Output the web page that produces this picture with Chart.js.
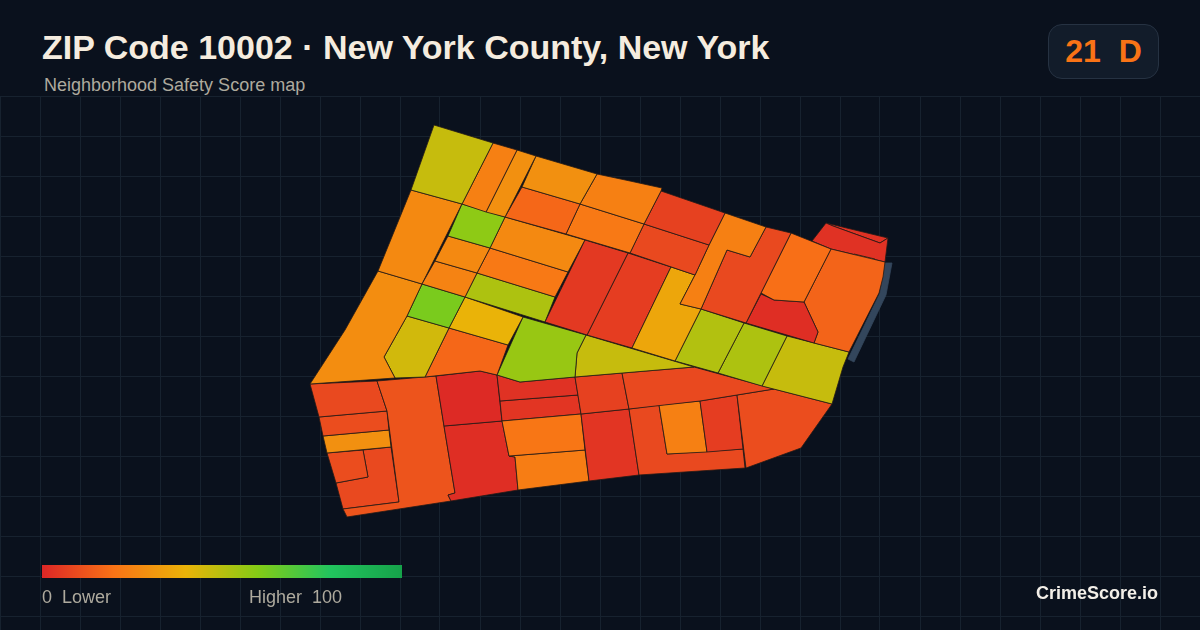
<!DOCTYPE html>
<html>
<head>
<meta charset="utf-8">
<title>ZIP Code 10002</title>
<script src="https://cdn.jsdelivr.net/npm/chart.js@4"></script>
<style>
  html, body { margin: 0; padding: 0; background: #0a111d; }
  body { width: 1200px; height: 630px; position: relative; overflow: hidden; font-family: "Liberation Sans", Arial, sans-serif; }
  #map { position: absolute; left: 0; top: 96px; width: 1200px; height: 534px; }
  .label { position: absolute; white-space: pre; }
  #title { left: 42px; top: 27px; font-size: 34px; line-height: 40px; font-weight: 700; color: #f5ecdf; }
  #subtitle { left: 44px; top: 75px; font-size: 18px; line-height: 20px; color: #aeaa9e; }
  #badge { position: absolute; left: 1048px; top: 24px; width: 109px; height: 53px; border: 1px solid #263242; border-radius: 14px; background: #121c2a; color: #f97316; font-size: 32px; font-weight: 700; line-height: 53px; text-align: center; white-space: pre; }
  #scale-bar { position: absolute; left: 42px; top: 565px; width: 360px; height: 13px; }
  #low { left: 42px; top: 587px; font-size: 18px; line-height: 20px; color: #aeaa9e; }
  #high { left: 249px; top: 587px; font-size: 18px; line-height: 20px; color: #aeaa9e; }
  #brand { right: 42px; top: 583px; font-size: 18px; line-height: 20px; font-weight: 700; color: #f3efe8; }
</style>
</head>
<body>
<canvas id="map" width="1200" height="534"></canvas>
<div class="label" id="title">ZIP Code 10002 · New York County, New York</div>
<div class="label" id="subtitle">Neighborhood Safety Score map</div>
<div id="badge">21  D</div>
<div id="scale-bar"></div>
<div class="label" id="low">0  Lower</div>
<div class="label" id="high">Higher  100</div>
<div class="label" id="brand">CrimeScore.io</div>
<script>
// score ramp, same stops as the legend bar
const rampScores = [0, 20, 40, 60, 80, 100];
const rampColors = ["#dc2626", "#f97316", "#eab308", "#84cc16", "#22c55e", "#16a34a"];

const gridX = [0, 40, 80, 120, 160, 200, 240, 280, 320, 360, 400, 440, 480, 520, 560, 600, 640, 680, 720, 760, 800, 840, 880, 920, 960, 1000, 1040, 1080, 1120, 1160, 1200];
const gridY = [96, 136, 176, 216, 256, 296, 336, 376, 416, 456, 496, 536, 576, 616];

// block outlines, flat x,y lists
const blockOutlines = [
  [434,125, 493,143, 462,204, 411,190],
  [493,143, 517,150, 486,212, 462,204],
  [517,150, 536,156, 505,217, 486,212],
  [536,156, 597,174, 580,204, 522,187],
  [522,187, 580,204, 566,234, 505,217],
  [597,174, 630,181, 662,188, 661,191, 644,224, 580,204],
  [580,204, 644,224, 630,253, 566,234],
  [661,191, 725,213, 709,245, 644,224],
  [644,224, 709,245, 695,275, 630,253],
  [725,213, 766,227, 750,257, 727,250, 701,309, 680,304, 695,275, 709,245],
  [766,227, 791,233, 761,293, 746,323, 701,309, 727,250, 750,257],
  [791,233, 831,249, 804,302, 774,300, 761,293],
  [761,294, 774,300, 804,302, 818,332, 814,343, 746,323],
  [831,249, 885,262, 883,277, 879,293, 849,352, 814,343, 818,332, 804,302],
  [854,254, 875,259, 862,287, 841,279],
  [826,223, 833,226, 880,243, 888,238, 885,262, 831,249, 812,241],
  [826,223, 888,238, 880,243, 833,226],
  [671,267, 695,275, 680,304, 701,309, 675,361, 632,348],
  [585,240, 628,253, 587,335, 545,322],
  [628,253, 671,267, 632,348, 587,335],
  [462,204, 505,217, 490,248, 448,236],
  [505,217, 585,240, 568,272, 490,248],
  [448,236, 490,248, 477,273, 435,261],
  [490,248, 568,272, 555,297, 477,273],
  [435,261, 477,273, 465,297, 422,284],
  [477,273, 555,297, 545,322, 465,297],
  [411,190, 462,204, 422,284, 378,271],
  [378,271, 422,284, 407,316, 384,357, 395,378, 310,384, 345,330],
  [422,284, 465,297, 449,328, 407,316],
  [407,316, 449,328, 425,377, 395,378, 384,357],
  [465,297, 523,317, 508,345, 449,328],
  [449,328, 508,345, 497,375, 480,371, 425,377],
  [523,317, 586,335, 577,353, 575,377, 520,382, 497,375],
  [586,335, 694,367, 575,377, 577,353],
  [701,309, 744,323, 718,373, 675,361],
  [744,323, 787,336, 762,386, 718,373],
  [787,336, 849,352, 843,367, 832,404, 762,386],
  [622,373, 694,367, 774,389, 700,401, 629,409],
  [575,377, 622,373, 629,409, 581,414],
  [737,395, 774,389, 832,404, 801,448, 746,468],
  [700,401, 737,395, 743,449, 707,452],
  [659,405, 700,401, 707,452, 667,454],
  [629,409, 659,405, 667,454, 743,449, 745,468, 639,475],
  [581,414, 629,409, 639,475, 589,481],
  [502,421, 581,414, 585,450, 509,456],
  [509,456, 585,450, 589,481, 518,490, 515,457],
  [497,375, 520,382, 575,377, 578,395, 500,401],
  [500,401, 578,395, 581,414, 502,421],
  [436,376, 480,371, 497,375, 502,421, 444,426],
  [444,426, 502,421, 509,456, 515,457, 518,490, 451,501, 448,495, 455,493],
  [377,381, 436,376, 444,426, 455,493, 448,495, 451,501, 347,517, 343,509, 399,502, 387,411],
  [310,384, 377,381, 387,411, 319,417],
  [319,417, 387,411, 389,430, 323,436],
  [323,436, 389,430, 391,447, 327,453],
  [327,453, 363,450, 368,477, 336,483],
  [363,450, 391,447, 399,502, 343,509, 336,483, 368,477],
  [885,263, 892,263, 886,295, 854,362, 848,359, 880,293]
];

// one score per outline, null = outside the score range (water edge)
const blockScores = [
  47, 24, 29, 29, 17, 24, 22, 7, 9, 24, 9, 19, 2, 16, 19, 3, 3, 36, 5, 6,
  58, 27, 27, 22, 25, 52, 27, 28, 62, 45, 40, 17, 56, 47, 51, 52, 47, 9, 7, 10,
  6, 24, 9, 4, 21, 23, 3, 4, 1, 2, 12, 9, 10, 29, 10, 9, null
];
const waterColor = "#33465c";

function hexToRgb(hex) {
  return [1, 3, 5].map(i => parseInt(hex.slice(i, i + 2), 16));
}

function scoreColor(score) {
  if (score === null) return waterColor;
  let i = 0;
  while (i < rampScores.length - 2 && score > rampScores[i + 1]) i++;
  const t = (score - rampScores[i]) / (rampScores[i + 1] - rampScores[i]);
  const a = hexToRgb(rampColors[i]);
  const b = hexToRgb(rampColors[i + 1]);
  const c = a.map((v, k) => Math.round(v + (b[k] - v) * t));
  return `rgb(${c[0]},${c[1]},${c[2]})`;
}

function outlineToPoints(outline) {
  const points = [];
  for (let i = 0; i < outline.length; i += 2) {
    points.push({ x: outline[i], y: outline[i + 1] });
  }
  points.push({ x: outline[0], y: outline[1] });
  return points;
}

const datasets = blockOutlines.map((outline, i) => {
  const isWater = blockScores[i] === null;
  return {
    data: outlineToPoints(outline),
    showLine: true,
    fill: "shape",
    tension: 0,
    pointRadius: 0,
    backgroundColor: scoreColor(blockScores[i]),
    borderColor: isWater ? waterColor : "#241b16",
    borderWidth: 0.8,
    order: isWater ? 1 : 0
  };
});

document.getElementById("scale-bar").style.background =
  `linear-gradient(to right, ${rampColors.map((c, i) => `${c} ${rampScores[i]}%`).join(", ")})`;

new Chart(document.getElementById("map").getContext("2d"), {
  type: "scatter",
  data: { datasets },
  options: {
    responsive: false,
    animation: false,
    layout: { padding: 0 },
    plugins: {
      legend: { display: false },
      tooltip: { enabled: false },
      filler: { drawTime: "beforeDatasetDraw" }
    },
    scales: {
      x: {
        type: "linear",
        min: 0,
        max: 1200,
        afterBuildTicks: axis => { axis.ticks = gridX.map(value => ({ value })); },
        afterFit: axis => { axis.height = 0; axis.paddingLeft = 0; axis.paddingRight = 0; },
        ticks: { display: false, padding: 0 },
        border: { display: false },
        grid: { color: "#17222f", lineWidth: 1, drawTicks: false, tickLength: 0 }
      },
      y: {
        type: "linear",
        reverse: true,
        min: 96,
        max: 630,
        afterBuildTicks: axis => { axis.ticks = gridY.map(value => ({ value })); },
        afterFit: axis => { axis.width = 0; axis.paddingTop = 0; axis.paddingBottom = 0; },
        ticks: { display: false, padding: 0 },
        border: { display: false },
        grid: { color: "#17222f", lineWidth: 1, drawTicks: false, tickLength: 0 }
      }
    }
  }
});
</script>
</body>
</html>
